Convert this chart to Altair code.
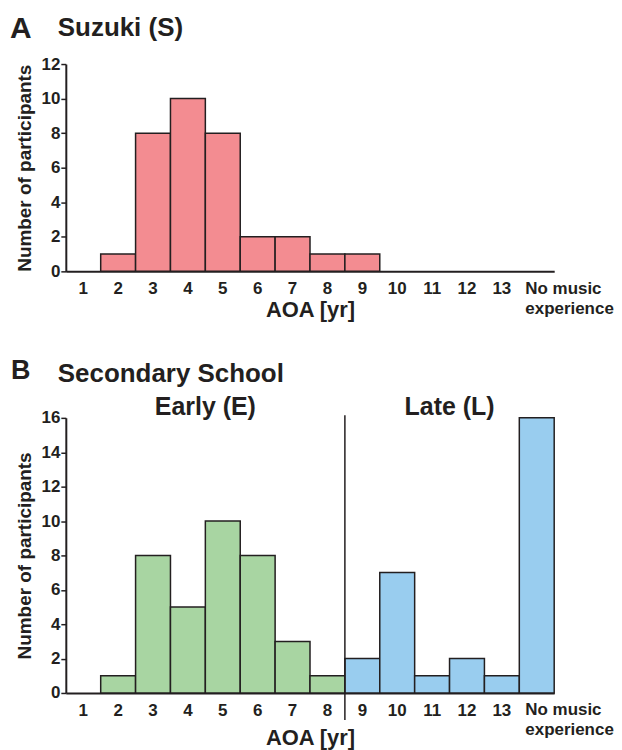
import altair as alt
import pandas as pd

# ---------------- data ----------------
categories = ["1", "2", "3", "4", "5", "6", "7", "8", "9", "10", "11", "12", "13",
              "No music experience"]
suzuki_counts = [0, 1, 8, 10, 8, 2, 2, 1, 1, 0, 0, 0, 0, 0]
secondary_counts = [0, 1, 8, 5, 10, 8, 3, 1, 2, 7, 1, 2, 1, 16]
secondary_groups = ["Early"] * 8 + ["Late"] * 6
group_names = ["Early", "Late"]
group_labels = ["Early (E)", "Late (L)"]
group_label_anchor = ["5", "12"]      # category whose left edge is the group's centre
split_category = "9"                  # Early/Late split at the left edge of this category
suzuki_ticks = [0, 2, 4, 6, 8, 10, 12]
secondary_ticks = [0, 2, 4, 6, 8, 10, 12, 14, 16]
last_label_lines = "No music\nexperience"

FONT = "Liberation Sans"
INK = "#231f20"
PINK = "#f38c91"
GREEN = "#a8d5a2"
BLUE = "#99cdef"

W = 490
HA = 208
HB = 276
LABEL_PAD = 9.5

LAST = categories[-1]

suzuki_df = pd.DataFrame({"cat": categories, "count": suzuki_counts})
suzuki_df = suzuki_df[suzuki_df["count"] > 0]
secondary_df = pd.DataFrame({"cat": categories, "count": secondary_counts,
                             "group": secondary_groups})
secondary_df = secondary_df[secondary_df["count"] > 0]
region_df = pd.DataFrame({"cat": group_label_anchor, "label": group_labels})
split_df = pd.DataFrame({"cat": [split_category]})
last_df = pd.DataFrame({"cat": [LAST], "label": [last_label_lines]})


def x_enc(title_y, band=None):
    kw = {}
    if band is not None:
        kw["bandPosition"] = band
    return alt.X(
        "cat:N",
        scale=alt.Scale(domain=categories, paddingInner=0, paddingOuter=0),
        axis=alt.Axis(
            title="AOA [yr]",
            titleFont=FONT, titleFontSize=22, titleFontWeight="bold", titleColor=INK,
            titleY=title_y, titleBaseline="alphabetic",
            labelAngle=0, ticks=False, tickSize=0,
            domainColor=INK, domainWidth=2,
            labelFont=FONT, labelFontSize=17, labelFontWeight="bold", labelColor=INK,
            labelPadding=LABEL_PAD, labelOverlap=False,
            labelExpr=f"datum.value == '{LAST}' ? '' : datum.label",
        ),
        **kw,
    )


def y_axis(ticks):
    return alt.Axis(
        title="Number of participants", values=ticks, grid=False,
        titleFont=FONT, titleFontSize=19, titleFontWeight="bold", titleColor=INK,
        titlePadding=7, labelOverlap=False,
        domainColor=INK, domainWidth=2, tickColor=INK, tickWidth=1.5, tickSize=5,
        labelFont=FONT, labelFontSize=17, labelFontWeight="bold", labelColor=INK,
        labelPadding=1,
    )


def y_enc(top, ticks):
    return alt.Y("count:Q", scale=alt.Scale(domain=[0, top], nice=False),
                 axis=y_axis(ticks))


def last_label(h, title_y):
    return alt.Chart(last_df).mark_text(
        font=FONT, fontSize=17, fontWeight="bold", color=INK, align="left",
        baseline="top", lineBreak="\n", lineHeight=20, dx=6).encode(
        x=x_enc(title_y, 0), y=alt.value(h + LABEL_PAD), text="label:N")


def heading(letter, letter_size, letter_x, letter_y, title, title_x, title_y):
    d = pd.DataFrame({"letter": [letter], "title": [title]})
    l = alt.Chart(d).mark_text(font=FONT, fontSize=letter_size, fontWeight="bold",
                               color=INK, align="left", baseline="alphabetic").encode(
        x=alt.value(letter_x), y=alt.value(letter_y), text="letter:N")
    t = alt.Chart(d).mark_text(font=FONT, fontSize=26, fontWeight="bold",
                               color=INK, align="left", baseline="alphabetic").encode(
        x=alt.value(title_x), y=alt.value(title_y), text="title:N")
    return [l, t]


# ---------------- panel A ----------------
bars_a = alt.Chart(suzuki_df).mark_bar(color=PINK, stroke=INK, strokeWidth=1.5).encode(
    x=x_enc(45), y=y_enc(12, suzuki_ticks))
panel_a = alt.layer(bars_a, last_label(HA, 45),
                    *heading("A", 30, -56, -26, "Suzuki (S)", -8, -28)).properties(
    width=W, height=HA)

# ---------------- panel B ----------------
bars_b = alt.Chart(secondary_df).mark_bar(stroke=INK, strokeWidth=1.5).encode(
    x=x_enc(52), y=y_enc(16, secondary_ticks),
    color=alt.Color("group:N", scale=alt.Scale(domain=group_names, range=[GREEN, BLUE]),
                    legend=None))
split_rule = alt.Chart(split_df).mark_rule(color=INK, strokeWidth=1.5).encode(
    x=x_enc(52, 0),
    y=alt.YDatum(16.15, axis=y_axis(secondary_ticks)),
    y2=alt.datum(-1.57))
region_text = alt.Chart(region_df).mark_text(
    font=FONT, fontSize=25, fontWeight="bold", color=INK, baseline="alphabetic",
    dy=-3).encode(
    x=x_enc(52, 0), y=alt.YDatum(16, axis=y_axis(secondary_ticks)), text="label:N")
panel_b = alt.layer(bars_b, split_rule, region_text, last_label(HB, 52),
                    *heading("B", 27, -55, -39, "Secondary School", -8, -36)).properties(
    width=W, height=HB)

chart = alt.vconcat(panel_a, panel_b, spacing=37).configure(
    padding={"left": 2, "top": 5, "right": 0, "bottom": 0}
).configure_view(stroke=None)

chart.save("out.html", embed_options={"renderer": "svg", "actions": False})
